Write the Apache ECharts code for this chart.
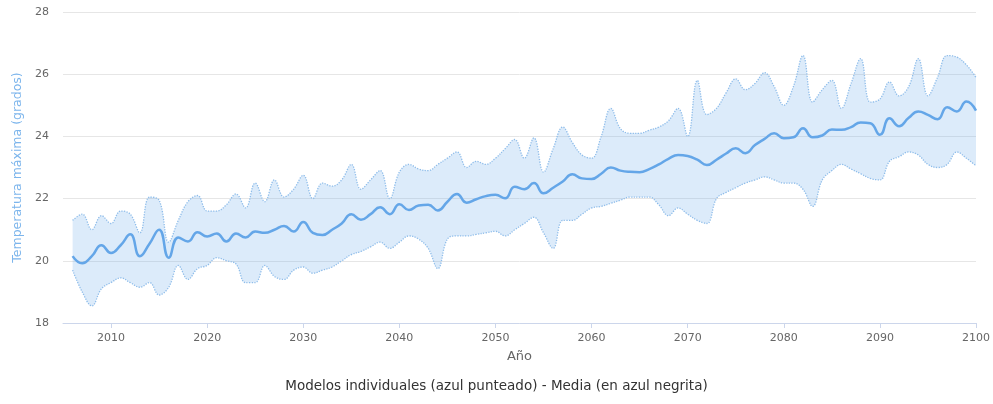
<!DOCTYPE html>
<html>
<head>
<meta charset="utf-8">
<script src="https://cdn.jsdelivr.net/npm/echarts@6/dist/echarts.min.js"></script>
<style>
html,body{margin:0;padding:0;background:#fff;}
#chart{width:993px;height:404px;}
</style>
</head>
<body>
<div id="chart"></div>
<script>
var axisStartYear = 2005;
var firstYear = 2006;
var lastYear = 2100;
var xTicks = [2010, 2020, 2030, 2040, 2050, 2060, 2070, 2080, 2090, 2100];
var yTicks = [18, 20, 22, 24, 26, 28];

// Ensemble mean (bold blue), 2006..2100
var meanValues = [
  20.15, 19.92, 20.15, 20.5,
  20.25, 20.5, 20.85, 20.15, 20.55, 21.0, 20.1, 20.75, 20.62, 20.92,
  20.78, 20.88, 20.62, 20.88, 20.75, 20.94, 20.9, 21.0, 21.12, 20.94,
  21.25, 20.9, 20.83, 21.0, 21.2, 21.5, 21.32, 21.5, 21.72, 21.5,
  21.82, 21.63, 21.78, 21.8, 21.62, 21.9, 22.15, 21.87, 21.98, 22.08,
  22.12, 22.01, 22.38, 22.3, 22.5, 22.17, 22.35, 22.55, 22.78, 22.65,
  22.63, 22.8, 23.0, 22.9, 22.86, 22.85, 22.95, 23.1, 23.28, 23.4,
  23.37, 23.25, 23.08, 23.25, 23.45, 23.62, 23.46, 23.72, 23.92, 24.1,
  23.94, 23.97, 24.26, 23.97, 24.03, 24.22, 24.21, 24.3, 24.45, 24.42,
  24.05, 24.58, 24.33, 24.6, 24.8, 24.69, 24.55, 24.94, 24.8, 25.12,
  24.83
];

// Upper envelope of individual models (dotted), 2006..2100
var modelsMax = [
  21.3, 21.5, 21.0, 21.45,
  21.2, 21.6, 21.5, 20.9, 22.05, 21.95, 20.6, 21.3, 21.9, 22.1,
  21.6, 21.6, 21.8, 22.15, 21.7, 22.5, 21.9, 22.6, 22.05, 22.3,
  22.75, 22.0, 22.5, 22.4, 22.6, 23.1, 22.3, 22.6, 22.9, 22.0,
  22.85, 23.1, 22.95, 22.9, 23.1, 23.3, 23.5, 23.0, 23.2, 23.1,
  23.3, 23.6, 23.9, 23.3, 23.95, 22.85, 23.6, 24.3, 23.8, 23.4,
  23.3, 24.0, 24.9, 24.25, 24.1, 24.1, 24.2, 24.3, 24.5, 24.9,
  24.0, 25.8, 24.7, 24.9, 25.4, 25.85, 25.5, 25.7, 26.05, 25.6,
  25.0, 25.6, 26.6, 25.1, 25.5, 25.8, 24.9, 25.7, 26.5, 25.1,
  25.2, 25.75, 25.3, 25.6, 26.5, 25.3, 25.9, 26.6, 26.55, 26.3,
  25.9
];

// Lower envelope of individual models (dotted), 2006..2100
var modelsMin = [
  19.7, 19.0, 18.55, 19.1,
  19.3, 19.45, 19.3, 19.15, 19.3, 18.9, 19.15, 19.85, 19.4, 19.75,
  19.85, 20.1, 20.0, 19.9, 19.3, 19.3, 19.85, 19.5, 19.4, 19.7,
  19.8, 19.6, 19.7, 19.8, 20.0, 20.2, 20.3, 20.45, 20.6, 20.4,
  20.6, 20.8, 20.7, 20.4, 19.75, 20.7, 20.8, 20.8, 20.85, 20.9,
  20.95, 20.8, 21.0, 21.2, 21.4, 20.9, 20.4, 21.3, 21.3, 21.5,
  21.7, 21.75, 21.85, 21.95, 22.05, 22.05, 22.05, 21.8, 21.45, 21.7,
  21.5, 21.3, 21.2, 22.0, 22.2, 22.35, 22.5, 22.6, 22.7, 22.6,
  22.5, 22.5, 22.3, 21.75, 22.6, 22.9, 23.1, 22.95, 22.8, 22.65,
  22.6, 23.2, 23.35, 23.5, 23.4, 23.1, 23.0, 23.1, 23.5, 23.3,
  23.05
];

// Category axis covers 2005..2100 (no data in 2005)
var categories = [];
for (var y = axisStartYear; y <= lastYear; y++) categories.push(String(y));
var lead = firstYear - axisStartYear;
function onAxis(vals) {
  var out = [];
  for (var k = 0; k < lead; k++) out.push('-');
  return out.concat(vals);
}
var rangeValues = modelsMax.map(function (v, i) { return +(v - modelsMin[i]).toFixed(3); });
function isTick(idx, val) { return xTicks.indexOf(Number(val)) >= 0; }

var FONT = 'DejaVu Sans';
var chart = echarts.init(document.getElementById('chart'), null, { renderer: 'canvas' });
chart.setOption({
  animation: false,
  backgroundColor: '#ffffff',
  textStyle: { fontFamily: FONT },
  title: {
    text: 'Modelos individuales (azul punteado) - Media (en azul negrita)',
    left: 'center',
    bottom: 6,
    textStyle: { fontFamily: FONT, fontSize: 13.5, fontWeight: 'normal', color: '#333333' }
  },
  grid: { left: 63, right: 11, top: 12, bottom: 81, containLabel: false },
  xAxis: {
    type: 'category',
    data: categories,
    boundaryGap: false,
    name: 'Año',
    nameLocation: 'middle',
    nameGap: 27,
    nameTextStyle: { color: '#666666', fontSize: 13, fontFamily: FONT },
    axisLine: { show: true, lineStyle: { color: '#ccd6eb', width: 1 } },
    axisTick: { show: true, length: 5, interval: isTick, lineStyle: { color: '#ccd6eb' } },
    axisLabel: { color: '#666666', fontSize: 11, margin: 10, fontFamily: FONT, interval: isTick },
    splitLine: { show: false }
  },
  yAxis: {
    type: 'value',
    min: 18,
    max: 28,
    interval: 2,
    name: 'Temperatura máxima (grados)',
    nameLocation: 'middle',
    nameGap: 38,
    nameTextStyle: { color: '#7cb5ec', fontSize: 12.5, fontFamily: FONT },
    axisLine: { show: false },
    axisTick: { show: false },
    axisLabel: { color: '#666666', fontSize: 11, margin: 14, fontFamily: FONT },
    splitLine: { show: true, lineStyle: { color: '#e6e6e6', width: 1 } }
  },
  series: [
    {
      name: 'min', type: 'line', stack: 'band', data: onAxis(modelsMin),
      smooth: 0.4, symbol: 'none', silent: true,
      lineStyle: { color: '#8fbdea', width: 1.3, type: 'dotted' },
      z: 2
    },
    {
      name: 'range', type: 'line', stack: 'band', data: onAxis(rangeValues),
      smooth: 0.4, symbol: 'none', silent: true,
      lineStyle: { color: '#8fbdea', width: 1.3, type: 'dotted' },
      areaStyle: { color: 'rgba(124,181,236,0.38)' },
      z: 2
    },
    {
      name: 'Media', type: 'line', data: onAxis(meanValues),
      smooth: 0.5, symbol: 'none', silent: true,
      lineStyle: { color: '#64a6e8', width: 2.5 },
      z: 5
    }
  ]
});
</script>
</body>
</html>
